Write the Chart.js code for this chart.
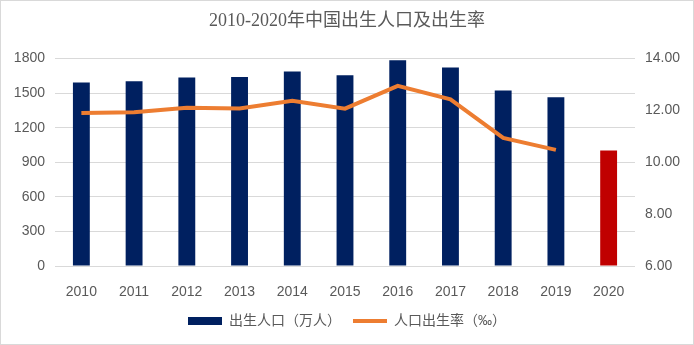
<!DOCTYPE html>
<html>
<head>
<meta charset="utf-8">
<script src="https://cdn.jsdelivr.net/npm/chart.js@4"></script>
<style>
  body { margin: 0; background: #fff; }
  #wrap { width: 694px; height: 345px; box-sizing: border-box; border: 1px solid #d9d9d9; }
</style>
</head>
<body>
<div id="wrap"><canvas id="birthChart" width="692" height="343"></canvas></div>
<script>
var years = ['2010','2011','2012','2013','2014','2015','2016','2017','2018','2019','2020'];
var births = [1592,1604,1635,1640,1687,1655,1786,1723,1523,1465,1003];
var birthRate = [11.90,11.93,12.10,12.08,12.37,12.07,12.95,12.43,10.94,10.48,null];

var navy = '#002060';
var red = '#C00000';
var orange = '#ED7D31';
var grey = '#595959';

var barColors = years.map(function (y) { return y === '2020' ? red : navy; });

var ctx = document.getElementById('birthChart').getContext('2d');
var birthChart = new Chart(ctx, {
  type: 'bar',
  data: {
    labels: years,
    datasets: [{
      type: 'line',
      label: '人口出生率（‰）',
      data: birthRate,
      yAxisID: 'y2',
      borderColor: orange,
      backgroundColor: orange,
      borderWidth: 4,
      pointRadius: 0,
      tension: 0,
      order: 0
    }, {
      type: 'bar',
      label: '出生人口（万人）',
      data: births,
      yAxisID: 'y',
      backgroundColor: barColors,
      categoryPercentage: 1,
      barPercentage: 0.32,
      order: 1
    }]
  },
  options: {
    responsive: false,
    animation: false,
    layout: { padding: { left: 0, right: 0, top: 0, bottom: 6 } },
    plugins: {
      title: {
        display: true,
        text: '2010-2020年中国出生人口及出生率',
        color: grey,
        font: { family: '"Liberation Serif", "Noto Sans CJK SC", serif', size: 18, weight: 'normal' },
        padding: { top: 9, bottom: 27 }
      },
      legend: {
        position: 'bottom',
        labels: {
          color: grey,
          font: { family: '"Liberation Sans", "Noto Sans CJK SC", sans-serif', size: 14 },
          usePointStyle: true,
          pointStyleWidth: 34,
          boxHeight: 8,
          padding: 12,
          generateLabels: function () {
            return [
              { text: '出生人口（万人）', fillStyle: navy, strokeStyle: navy, lineWidth: 0, pointStyle: 'rect', fontColor: grey, datasetIndex: 1 },
              { text: '人口出生率（‰）', fillStyle: orange, strokeStyle: orange, lineWidth: 4, pointStyle: 'line', fontColor: grey, datasetIndex: 0 }
            ];
          }
        }
      },
      tooltip: { enabled: false }
    },
    scales: {
      x: {
        grid: { display: false },
        border: { display: false },
        ticks: {
          color: grey,
          padding: 10,
          font: { family: '"Liberation Sans", sans-serif', size: 14 }
        },
        afterFit: function (axis) { axis.height = 36; }
      },
      y: {
        position: 'left',
        min: 0,
        max: 1800,
        ticks: {
          stepSize: 300,
          color: grey,
          padding: 10,
          font: { family: '"Liberation Sans", sans-serif', size: 14 },
          callback: function (v) { return String(v); }
        },
        grid: { color: '#d9d9d9', lineWidth: 1, drawTicks: false },
        border: { display: false },
        afterFit: function (axis) { axis.width = 54; }
      },
      y2: {
        position: 'right',
        min: 6,
        max: 14,
        ticks: {
          stepSize: 2,
          color: grey,
          padding: 10,
          font: { family: '"Liberation Sans", sans-serif', size: 14 },
          callback: function (v) { return v.toFixed(2); }
        },
        grid: { display: false, drawTicks: false },
        border: { display: false },
        afterFit: function (axis) { axis.width = 58; }
      }
    }
  }
});
</script>
</body>
</html>
